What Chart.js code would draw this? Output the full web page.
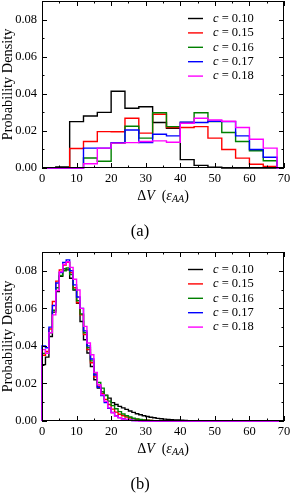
<!DOCTYPE html>
<html>
<head>
<meta charset="utf-8">
<script src="https://cdn.jsdelivr.net/npm/chart.js@4.4.0/dist/chart.umd.min.js"></script>
<style>
  html, body { margin: 0; padding: 0; background: #fff; }
  .panel { position: absolute; left: 0; width: 291px; height: 247px; }
  #panel-a { top: 0; }
  #panel-b { top: 247px; }
</style>
</head>
<body>
<div class="panel" id="panel-a"><canvas id="chart-a"></canvas></div>
<div class="panel" id="panel-b"><canvas id="chart-b"></canvas></div>
<script>
const seriesLabels = ["0.10", "0.15", "0.16", "0.17", "0.18"]
const seriesColors = ["#000000", "#ff0000", "#008000", "#0000ff", "#ff00ff"]
const xTicks = [0, 10, 20, 30, 40, 50, 60, 70]
const yTicks = [0, 0.02, 0.04, 0.06, 0.08]

// panel (a): bins of width 4 starting at 0
const binWidthA = 4
const histA010 = [0, 0.0005, 0.025, 0.028, 0.030, 0.0414, 0.0322, 0.033, 0.0245, 0.0214, 0.0045, 0.0014, 0.0004, 0, 0, 0, 0]
const histA015 = [0, 0, 0.0105, 0.0143, 0.0196, 0.0195, 0.0268, 0.0188, 0.029, 0.0218, 0.0218, 0.0223, 0.0161, 0.0100, 0.0053, 0.0020, 0.0008]
const histA016 = [0, 0, 0, 0.0054, 0.0036, 0.0134, 0.0225, 0.0161, 0.0298, 0.0223, 0.0245, 0.0298, 0.0250, 0.0191, 0.0143, 0.0093, 0.0039]
const histA017 = [0, 0, 0, 0.0107, 0.0107, 0.0137, 0.0205, 0.0137, 0.0182, 0.0173, 0.0247, 0.0245, 0.0252, 0.0250, 0.0173, 0.0100, 0.0058]
const histA018 = [0, 0, 0, 0.0023, 0.0107, 0.0134, 0.0137, 0.0143, 0.0146, 0.0139, 0.0241, 0.0268, 0.0259, 0.0252, 0.0218, 0.0155, 0.0107]

// panel (b): bins of width 1 starting at 0
const binWidthB = 1
const histB010 = [0.030, 0.034, 0.045, 0.058, 0.069, 0.077, 0.081, 0.0805, 0.076, 0.0697, 0.0627, 0.053, 0.0433, 0.0362, 0.029, 0.022,
  0.0175, 0.0155, 0.0138, 0.0122, 0.0098, 0.0088, 0.0078, 0.0070, 0.0062, 0.0053, 0.0046, 0.0039, 0.0033, 0.0028, 0.0024, 0.0020,
  0.0017, 0.0014, 0.0012, 0.0010, 0.0008, 0.0007, 0.0006, 0.0005, 0.0004, 0.0003, 0.0002, 0.0002, 0.0001]
const histB015 = [0.035, 0.037, 0.049, 0.0636, 0.0745, 0.0805, 0.083, 0.0845, 0.079, 0.071, 0.063, 0.0565, 0.046, 0.038, 0.031, 0.0235,
  0.0185, 0.0145, 0.0115, 0.0088, 0.0063, 0.0047, 0.0036, 0.0028, 0.0021, 0.0016, 0.0012, 0.0009, 0.0007, 0.0005, 0.0004, 0.0003,
  0.0002, 0.0001]
const histB016 = [0.036, 0.036, 0.047, 0.059, 0.071, 0.0775, 0.080, 0.0815, 0.078, 0.070, 0.064, 0.057, 0.047, 0.039, 0.032, 0.025,
  0.0205, 0.0175, 0.0135, 0.0106, 0.0082, 0.0065, 0.0050, 0.0037, 0.0028, 0.0021, 0.0015, 0.0011, 0.0008, 0.0006, 0.0004, 0.0003,
  0.0002, 0.0001]
const histB017 = [0.040, 0.039, 0.050, 0.0615, 0.0735, 0.079, 0.0845, 0.0858, 0.080, 0.0725, 0.066, 0.060, 0.048, 0.040, 0.033, 0.0245,
  0.018, 0.0135, 0.0098, 0.0068, 0.0045, 0.0028, 0.0018, 0.0012, 0.0008, 0.0005, 0.0003, 0.0002, 0.0001]
const histB018 = [0.038, 0.036, 0.047, 0.0565, 0.0695, 0.0795, 0.0835, 0.0848, 0.0818, 0.0755, 0.0698, 0.060, 0.0504, 0.0415, 0.0353, 0.0258,
  0.0193, 0.014, 0.0105, 0.007, 0.0044, 0.0027, 0.0017, 0.0011, 0.0007, 0.0004, 0.0002, 0.0001]

const serifFont = "'Liberation Serif', 'Times New Roman', serif"
const xMax = 70

// outline of a step histogram, closed down to zero and run along zero to the axis end
function stepPoints(width, values){
    const pts = [{x: 0, y: 0}]
    values.forEach((v, i) => pts.push({x: i * width, y: v}))
    const end = values.length * width
    pts.push({x: end, y: 0})
    if(end < xMax) pts.push({x: xMax, y: 0})
    return pts
}

function drawMixed(ctx, parts, cx, cy, size){
    let total = 0
    parts.forEach(p => {
        ctx.font = `${p.italic ? "italic " : ""}${p.scale ? size * p.scale : size}px ${serifFont}`
        p.w = ctx.measureText(p.t).width
        total += p.w
    })
    let x = cx - total / 2
    parts.forEach(p => {
        ctx.font = `${p.italic ? "italic " : ""}${p.scale ? size * p.scale : size}px ${serifFont}`
        ctx.fillText(p.t, x, cy + (p.dy || 0))
        x += p.w
    })
}

const panelDecor = {
    id: "panelDecor",
    afterDraw(chart, args, opts){
        const ctx = chart.ctx
        const a = chart.chartArea
        const xs = chart.scales.x
        const ys = chart.scales.y
        ctx.save()
        ctx.strokeStyle = "#000"
        ctx.lineWidth = 1
        ctx.strokeRect(a.left + 0.5, a.top + 0.5, a.right - a.left - 1, a.bottom - a.top - 1)

        // inward ticks on all four sides, minor ticks halfway between majors
        ctx.beginPath()
        for(let v = 0; v <= xMax; v += 5){
            const px = Math.round(xs.getPixelForValue(v)) + 0.5
            const len = v % 10 === 0 ? 5 : 2.5
            ctx.moveTo(px, a.bottom); ctx.lineTo(px, a.bottom - len)
            ctx.moveTo(px, a.top); ctx.lineTo(px, a.top + len)
        }
        for(let k = 0; k <= 9; k++){
            const py = Math.round(ys.getPixelForValue(k * 0.01)) + 0.5
            const len = k % 2 === 0 ? 5 : 2.5
            ctx.moveTo(a.left, py); ctx.lineTo(a.left + len, py)
            ctx.moveTo(a.right, py); ctx.lineTo(a.right - len, py)
        }
        ctx.stroke()

        ctx.fillStyle = "#000"
        ctx.textBaseline = "middle"
        ctx.textAlign = "left"

        // legend
        chart.data.datasets.forEach((ds, i) => {
            const ly = a.top + 17.5 + 14.4 * i
            ctx.strokeStyle = ds.borderColor
            ctx.lineWidth = 1.4
            ctx.beginPath()
            ctx.moveTo(188, ly); ctx.lineTo(203, ly)
            ctx.stroke()
            ctx.font = `italic 12.5px ${serifFont}`
            ctx.fillText("c", 213, ly)
            const cw = ctx.measureText("c").width
            ctx.font = `12.5px ${serifFont}`
            ctx.fillText(" = " + ds.label, 213 + cw, ly)
        })

        // y axis title
        ctx.save()
        ctx.translate(8.5, (a.top + a.bottom) / 2)
        ctx.rotate(-Math.PI / 2)
        ctx.textAlign = "center"
        ctx.font = `14.3px ${serifFont}`
        ctx.fillText("Probability Density", 0, 0)
        ctx.restore()

        // x axis title
        drawMixed(ctx, [
            {t: "\u0394"},
            {t: "V", italic: true},
            {t: "  ("},
            {t: "\u03b5", italic: true},
            {t: "AA", italic: true, scale: 0.72, dy: 3},
            {t: ")"}
        ], (a.left + a.right) / 2, a.bottom + 28.5, 14)

        // panel caption
        ctx.textAlign = "center"
        ctx.font = `16.5px ${serifFont}`
        ctx.fillText(opts.caption, 140, a.bottom + 63.6)
        ctx.restore()
    }
}

function makeHistChart(canvasId, width, series, caption, padTop, padBottom){
    const datasets = series.map((vals, i) => ({
        label: seriesLabels[i],
        data: stepPoints(width, vals),
        borderColor: seriesColors[i],
        borderWidth: 1.4,
        pointRadius: 0,
        stepped: true,
        fill: false,
        order: series.length - i,
        clip: 3
    }))
    const tickFont = { family: serifFont, size: 12.5 }
    return new Chart(document.getElementById(canvasId), {
        type: "line",
        data: { datasets },
        options: {
            responsive: true,
            maintainAspectRatio: false,
            animation: false,
            layout: { padding: { left: 0, right: 7, top: padTop, bottom: padBottom } },
            plugins: {
                legend: { display: false },
                tooltip: { enabled: false },
                panelDecor: { caption }
            },
            scales: {
                x: {
                    type: "linear",
                    min: 0,
                    max: xMax,
                    grid: { display: false, drawTicks: false },
                    border: { display: false },
                    afterBuildTicks: s => { s.ticks = xTicks.map(v => ({ value: v })) },
                    afterFit: s => { s.height = 20; s.paddingLeft = 0; s.paddingRight = 0 },
                    ticks: { font: tickFont, color: "#000", padding: 3, maxRotation: 0, autoSkip: false }
                },
                y: {
                    min: 0,
                    max: 0.09,
                    grid: { display: false, drawTicks: false },
                    border: { display: false },
                    afterBuildTicks: s => { s.ticks = yTicks.map(v => ({ value: v })) },
                    afterFit: s => { s.width = 42; s.paddingTop = 0; s.paddingBottom = 0 },
                    ticks: { font: tickFont, color: "#000", padding: 5, callback: v => v.toFixed(2) }
                }
            }
        },
        plugins: [panelDecor]
    })
}

makeHistChart("chart-a", binWidthA, [histA010, histA015, histA016, histA017, histA018], "(a)", 1, 59)
makeHistChart("chart-b", binWidthB, [histB010, histB015, histB016, histB017, histB018], "(b)", 5, 53)
</script>
</body>
</html>
